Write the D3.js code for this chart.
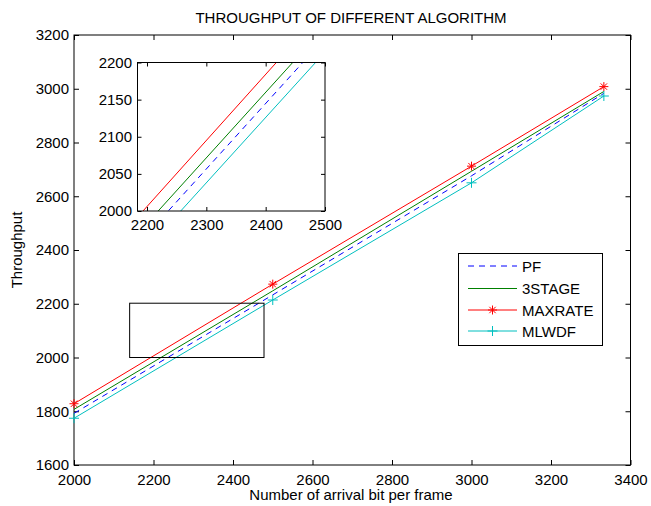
<!DOCTYPE html>
<html><head><meta charset="utf-8">
<script src="https://cdn.jsdelivr.net/npm/d3@7"></script>
<style>body{margin:0;background:#fff}svg{display:block}text{font-family:"Liberation Sans",Arial,sans-serif;fill:#000}</style>
</head><body><svg id="c" width="651" height="506"></svg>
<script>
const xVals = [2000, 2500, 3000, 3333];
const seriesNames = ["PF", "3STAGE", "MAXRATE", "MLWDF"];
const pf = [1792, 2233, 2676, 2983];
const stage3 = [1807, 2248, 2693, 2990];
const maxrate = [1828, 2273, 2712, 3008];
const mlwdf = [1774, 2214, 2650, 2973];
const xTicks = [2000, 2200, 2400, 2600, 2800, 3000, 3200, 3400];
const yTicks = [1600, 1800, 2000, 2200, 2400, 2600, 2800, 3000, 3200];
const insetXTicks = [2200, 2300, 2400, 2500];
const insetYTicks = [2000, 2050, 2100, 2150, 2200];
const zoomRectX = [2140, 2478];
const zoomRectY = [2000, 2202];
const insetXDomain = [2184, 2500];
const insetYDomain = [2000, 2200];

const series = [
  {name: "PF", vals: pf, color: "#0000ff", dash: "6,5", marker: null},
  {name: "3STAGE", vals: stage3, color: "#008000", dash: null, marker: null},
  {name: "MAXRATE", vals: maxrate, color: "#ff0000", dash: null, marker: "star"},
  {name: "MLWDF", vals: mlwdf, color: "#00bfbf", dash: null, marker: "plus"}
];

const FS = "15px";
const svg = d3.select("#c");
const M = {l: 74, r: 630.5, t: 35, b: 465};
const x = d3.scaleLinear().domain([2000, 3400]).range([M.l, M.r]);
const y = d3.scaleLinear().domain([1600, 3200]).range([M.b, M.t]);

function drawAxes(g, xs, ys, xt, yt, tickLen, padX, padY) {
  const [x0, x1] = xs.range(); const [y0, y1] = ys.range();
  g.append("rect").attr("x", x0).attr("y", y1).attr("width", x1 - x0).attr("height", y0 - y1)
    .attr("fill", "none").attr("stroke", "#000").attr("stroke-width", 1);
  const ax = d3.axisBottom(xs).tickValues(xt).tickSize(-tickLen).tickPadding(padX).tickFormat(d3.format("d"));
  const axT = d3.axisTop(xs).tickValues(xt).tickSize(-tickLen).tickFormat("");
  const ay = d3.axisLeft(ys).tickValues(yt).tickSize(-tickLen).tickPadding(padY).tickFormat(d3.format("d"));
  const ayR = d3.axisRight(ys).tickValues(yt).tickSize(-tickLen).tickFormat("");
  [[ax, `translate(0,${y0})`], [axT, `translate(0,${y1})`], [ay, `translate(${x0},0)`], [ayR, `translate(${x1},0)`]].forEach(([a, tr]) => {
    const gg = g.append("g").attr("transform", tr).call(a);
    gg.select(".domain").remove();
    gg.selectAll("line").attr("stroke", "#000");
    gg.selectAll("text").style("font-size", FS).style("font-family", '"Liberation Sans",Arial,sans-serif').attr("fill", "#000");
  });
}

drawAxes(svg.append("g"), x, y, xTicks, yTicks, 5, 9, 5);

function starPath(cx, cy, r) {
  let p = "";
  for (let i = 0; i < 4; i++) {
    const a = i * Math.PI / 4;
    const dx = r * Math.cos(a), dy = r * Math.sin(a);
    p += `M${cx - dx},${cy - dy}L${cx + dx},${cy + dy}`;
  }
  return p;
}
function plusPath(cx, cy, r) {
  return `M${cx - r},${cy}L${cx + r},${cy}M${cx},${cy - r}L${cx},${cy + r}`;
}

function drawSeries(g, xs, ys, withMarkers) {
  series.forEach(s => {
    const line = d3.line().x((d, i) => xs(xVals[i])).y(d => ys(d));
    g.append("path").datum(s.vals).attr("d", line).attr("fill", "none")
      .attr("stroke", s.color).attr("stroke-width", 1)
      .attr("stroke-dasharray", s.dash);
    if (withMarkers && s.marker) {
      g.selectAll(null).data(s.vals).enter().append("path")
        .attr("d", (d, i) => s.marker === "star" ? starPath(xs(xVals[i]), ys(d), 4.5) : plusPath(xs(xVals[i]), ys(d), 5))
        .attr("stroke", s.color).attr("stroke-width", 1).attr("fill", "none");
    }
  });
}

drawSeries(svg.append("g"), x, y, true);

// zoom rectangle
svg.append("rect").attr("x", x(zoomRectX[0])).attr("y", y(zoomRectY[1]))
  .attr("width", x(zoomRectX[1]) - x(zoomRectX[0])).attr("height", y(zoomRectY[0]) - y(zoomRectY[1]))
  .attr("fill", "none").attr("stroke", "#000").attr("stroke-width", 1);

// title & labels
svg.append("text").attr("x", 351).attr("y", 22.5).attr("text-anchor", "middle").style("font-size", FS)
  .text("THROUGHPUT OF DIFFERENT ALGORITHM");
svg.append("text").attr("x", 351).attr("y", 500).attr("text-anchor", "middle").style("font-size", FS)
  .text("Number of arrival bit per frame");
svg.append("text").attr("transform", "translate(22,250) rotate(-90)").attr("text-anchor", "middle").style("font-size", FS)
  .text("Throughput");

// inset
const ix = d3.scaleLinear().domain(insetXDomain).range([137.5, 325]);
const iy = d3.scaleLinear().domain(insetYDomain).range([211, 62.5]);
const ig = svg.append("g");
ig.append("rect").attr("x", 137.5).attr("y", 62.5).attr("width", 325 - 137.5).attr("height", 211 - 62.5).attr("fill", "#fff");
svg.append("clipPath").attr("id", "ic").append("rect").attr("x", 137.5).attr("y", 62.5).attr("width", 325 - 137.5).attr("height", 211 - 62.5);
drawSeries(ig.append("g").attr("clip-path", "url(#ic)"), ix, iy, false);
drawAxes(ig, ix, iy, insetXTicks, insetYTicks, 4, 8.5, 5.5);

// legend
const lg = svg.append("g");
lg.append("rect").attr("x", 458.5).attr("y", 253.5).attr("width", 144).attr("height", 92)
  .attr("fill", "#fff").attr("stroke", "#000").attr("stroke-width", 1);
const ly = [266, 288.5, 310, 331];
series.forEach((s, i) => {
  lg.append("line").attr("x1", 468).attr("x2", 517).attr("y1", ly[i]).attr("y2", ly[i])
    .attr("stroke", s.color).attr("stroke-width", 1).attr("stroke-dasharray", s.dash);
  if (s.marker) {
    lg.append("path").attr("d", s.marker === "star" ? starPath(492.5, ly[i], 4.5) : plusPath(492.5, ly[i], 5))
      .attr("stroke", s.color).attr("fill", "none");
  }
  lg.append("text").attr("x", 522).attr("y", ly[i] + 5.5).style("font-size", FS).text(s.name);
});
</script></body></html>
